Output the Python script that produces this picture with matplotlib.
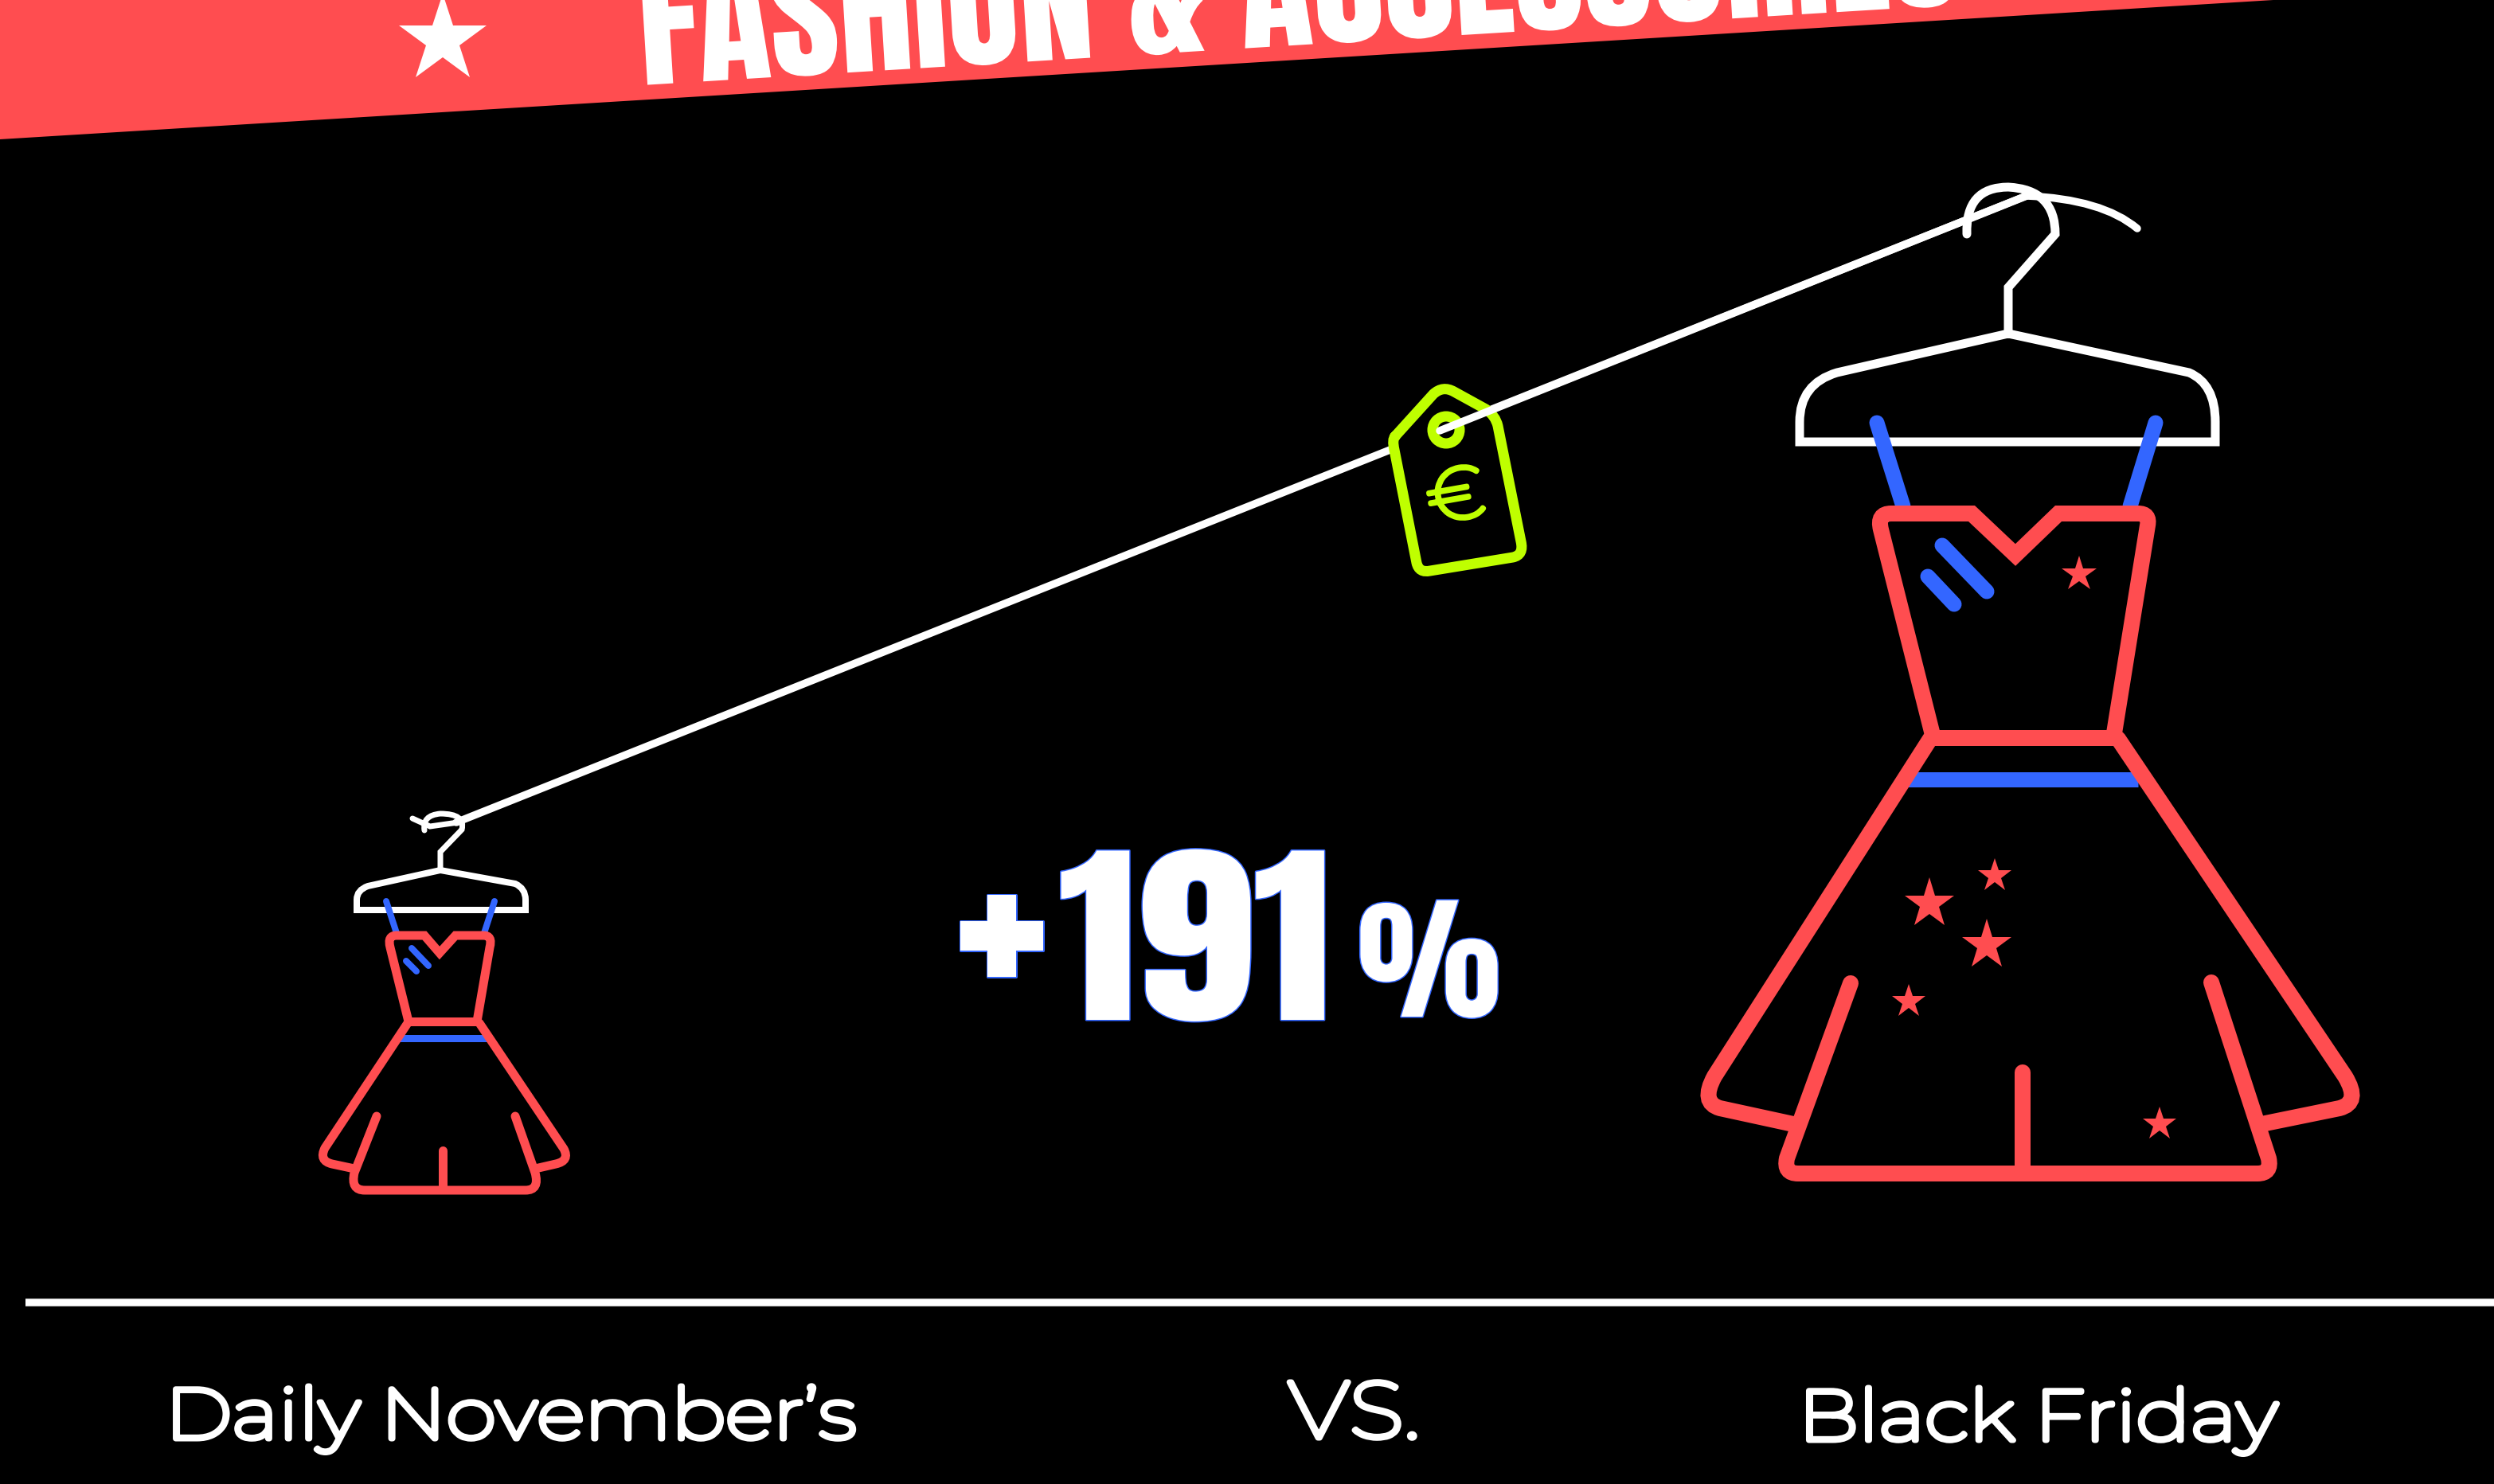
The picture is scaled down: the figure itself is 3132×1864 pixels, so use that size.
import matplotlib
matplotlib.use('Agg')
import matplotlib.pyplot as plt
import matplotlib.patheffects as pe
from matplotlib.patches import PathPatch, Polygon, Circle
from matplotlib.path import Path
from matplotlib.transforms import Affine2D

# ============================================================
# DATA
# ============================================================
BANNER_TEXT = "FASHION & ACCESSORIES"
CHANGE = ["+", "191", "%"]
LABELS = ["Daily November\u2019s", "VS.", "Black Friday"]

RED = '#FF4D50'
BLUE = '#3366FF'
LIME = '#BFFF00'
WHITE = '#FFFFFF'

# icon outlines in picture pixels, a 3rd item marks a curve control point
BIG_HANGER = [(2522, 419), (2307, 468), (2260, 482, 1), (2260, 530), (2260, 555), (2782, 555),
              (2782, 530), (2782, 482, 1), (2749, 468), (2522, 419)]
BIG_HOOK = [(2470, 294), (2468, 235, 1), (2522, 235), (2581, 238, 1), (2581, 294), (2522, 361), (2522, 419)]
BIG_BODICE = [(2428, 927), (2362, 665), (2357, 645, 1), (2375, 645), (2476, 645), (2531, 697), (2585, 645),
              (2685, 645), (2700, 645, 1), (2697, 660), (2654, 927)]
BIG_SKIRT_L = [(2424, 928), (2153, 1352), (2135, 1385, 1), (2160, 1392), (2252, 1412)]
BIG_SKIRT_R = [(2660, 928), (2945, 1352), (2965, 1385, 1), (2938, 1392), (2840, 1412)]
BIG_HEM = [(2324, 1235), (2244, 1455), (2240, 1474, 1), (2258, 1474), (2835, 1474), (2853, 1474, 1), (2849, 1455), (2777, 1234)]
BIG_STRAPS = [[(2357, 531), (2390, 636)], [(2707, 531), (2675, 636)]]
BIG_DASHES = [[(2439, 685), (2495, 743)], [(2421, 724), (2454, 759)]]
BIG_STARS = [(2611, 721, 23), (2505, 1100, 22), (2423, 1135, 33), (2495, 1187, 33), (2397, 1258, 22), (2712, 1412, 22)]

SMALL_HANGER = [(553, 1093), (462, 1113), (448, 1118, 1), (448, 1130), (448, 1143), (660, 1143),
                (660, 1130), (660, 1116, 1), (647, 1110), (553, 1093)]
SMALL_HOOK = [(533, 1043), (530, 1024, 1), (553, 1022), (585, 1022, 1), (580, 1042), (553, 1070), (553, 1093)]
SMALL_TAIL = [(518, 1028), (540, 1038), (575, 1033)]
SMALL_BODICE = [(513, 1283), (490, 1190), (486, 1175, 1), (498, 1175), (533, 1175), (552, 1197), (572, 1175),
                (607, 1175), (619, 1175, 1), (615, 1190), (599, 1283)]
SMALL_SKIRT_L = [(512, 1285), (408, 1442), (400, 1458, 1), (417, 1462), (445, 1468)]
SMALL_SKIRT_R = [(602, 1285), (708, 1443), (716, 1458, 1), (698, 1462), (672, 1468)]
SMALL_HEM = [(473, 1402), (445, 1473), (440, 1495, 1), (458, 1495), (660, 1495), (678, 1495, 1), (672, 1473), (647, 1402)]
SMALL_STRAPS = [[(485, 1132), (498, 1172)], [(621, 1132), (608, 1172)]]
SMALL_DASHES = [[(517, 1191), (538, 1213)], [(510, 1207), (523, 1220)]]

TAG = [(1752, 548), (1800, 495), (1812, 484, 1), (1826, 492), (1866, 514), (1878, 522, 1), (1881, 535), (1910, 680),
       (1914, 697, 1), (1900, 700), (1796, 717), (1782, 720, 1), (1779, 707), (1751, 565), (1748, 552, 1), (1752, 548)]


# ============================================================
# HELPERS
# ============================================================
class Stretch(pe.AbstractPathEffect):
    """Scale glyphs sideways and thicken them, the installed fonts come in one weight only."""
    def __init__(self, sx=1.0, edge=None, px=0):
        super().__init__()
        self.sx, self.edge, self.px = sx, edge, px

    def draw_path(self, renderer, gc, tpath, affine, rgbFace=None):
        tr = Affine2D().scale(self.sx, 1) + affine
        if self.edge:
            gc0 = renderer.new_gc()
            gc0.copy_properties(gc)
            gc0.set_foreground(self.edge)
            gc0.set_linewidth(self.px * 0.72)
            renderer.draw_path(gc0, tpath, tr, rgbFace)
            gc0.restore()
        renderer.draw_path(gc, tpath, tr, rgbFace)


def make_path(pts):
    verts, codes = [], []
    for i, p in enumerate(pts):
        verts.append(p[:2])
        if i == 0:
            codes.append(Path.MOVETO)
        elif len(p) == 3 or len(pts[i - 1]) == 3:
            codes.append(Path.CURVE3)
        else:
            codes.append(Path.LINETO)
    return Path(verts, codes)


def stroke(pts, color, px, z=3, face='none'):
    ax.add_patch(PathPatch(make_path(pts), facecolor=face, edgecolor=color, lw=px * 0.72,
                           capstyle='round', joinstyle='miter', zorder=z))


def star(x, y, r, color, z=4):
    ax.plot([x], [y], marker='*', ms=2 * r * 0.72, color=color, mew=0, ls='none', zorder=z)


# ============================================================
# PLOT
# ============================================================
fig = plt.figure(figsize=(31.32, 18.64), dpi=100, facecolor='black')
ax = fig.add_axes([0, 0, 1, 1])
ax.set_xlim(0, 3132)
ax.set_ylim(1864, 0)
ax.axis('off')

heavy = ['Anton', 'Oswald', 'Liberation Sans']
mont = ['Montserrat', 'Open Sans']

# banner
ax.add_patch(Polygon([(0, 0), (2855, 0), (0, 175)], closed=True, facecolor=RED, edgecolor='none', zorder=1))
star(556, 50, 58, WHITE)
ax.text(806, 107, BANNER_TEXT, color=WHITE, fontsize=125, rotation=3.5, rotation_mode='anchor',
        family=heavy, ha='left', va='baseline', zorder=2, path_effects=[Stretch(1.077)])

# string, tag sits on top of it
ax.plot([573, 2545], [1033, 246], color=WHITE, lw=9.5 * 0.72, solid_capstyle='round', zorder=2)
stroke(TAG, LIME, 13, z=3, face='black')
ax.add_patch(Circle((1816, 540), 17, facecolor='none', edgecolor=LIME, lw=13 * 0.72, zorder=4))
ax.plot([1808, 2545], [541, 246], color=WHITE, lw=9.5 * 0.72, solid_capstyle='round', zorder=5)
stroke([(2545, 246), (2640, 250, 1), (2684, 287)], WHITE, 9.5, z=5)
ax.text(1829, 627, "\u20ac", color=LIME, fontsize=66, rotation=10, ha='center', va='center',
        family=mont, zorder=5, path_effects=[Stretch(1.0, LIME, 6)])

# big dress
stroke(BIG_HANGER, WHITE, 11)
stroke(BIG_HOOK, WHITE, 11)
ax.plot([2396, 2685], [979, 979], color=BLUE, lw=19 * 0.72, solid_capstyle='butt', zorder=3)
for seg in BIG_STRAPS + BIG_DASHES:
    stroke(seg, BLUE, 19, z=4)
stroke(BIG_BODICE, RED, 20, z=5)
ax.plot([2424, 2660], [927, 927], color=RED, lw=20 * 0.72, solid_capstyle='butt', zorder=5)
for seg in [BIG_SKIRT_L, BIG_SKIRT_R, BIG_HEM, [(2540, 1347), (2540, 1473)]]:
    stroke(seg, RED, 20, z=5)
for x, y, r in BIG_STARS:
    star(x, y, r, RED, z=5)

# small dress
stroke(SMALL_HANGER, WHITE, 8)
stroke(SMALL_HOOK, WHITE, 7)
stroke(SMALL_TAIL, WHITE, 7)
ax.plot([500, 612], [1304, 1304], color=BLUE, lw=9 * 0.72, solid_capstyle='butt', zorder=3)
for seg in SMALL_STRAPS + SMALL_DASHES:
    stroke(seg, BLUE, 8, z=4)
stroke(SMALL_BODICE, RED, 11, z=5)
ax.plot([510, 604], [1283, 1283], color=RED, lw=11 * 0.72, solid_capstyle='butt', zorder=5)
for seg in [SMALL_SKIRT_L, SMALL_SKIRT_R, SMALL_HEM, [(556, 1445), (556, 1493)]]:
    stroke(seg, RED, 11, z=5)

# change figure
ax.text(1200, 1275, CHANGE[0], color=WHITE, fontsize=235, family=heavy, ha='left', va='baseline',
        zorder=5, path_effects=[Stretch(1.0, BLUE, 3)])
ax.text(1329, 1281, CHANGE[1], color=WHITE, fontsize=178, family=heavy, ha='left', va='baseline',
        zorder=5, path_effects=[Stretch(1.2, BLUE, 3)])
ax.text(1705, 1277, CHANGE[2], color=WHITE, fontsize=122, family=heavy, ha='left', va='baseline',
        zorder=5, path_effects=[Stretch(1.0, BLUE, 3)])

# bottom rule and labels
ax.plot([32, 3132], [1636, 1636], color=WHITE, lw=9.5 * 0.72, solid_capstyle='butt', zorder=2)
label_font = {'family': mont, 'color': WHITE, 'ha': 'left', 'va': 'baseline'}
ax.text(207, 1807, LABELS[0], fontsize=64, path_effects=[Stretch(1.145, WHITE, 7)], **label_font)
ax.text(1618, 1806, LABELS[1], fontsize=72, path_effects=[Stretch(1.14, WHITE, 7)], **label_font)
ax.text(2258, 1809, LABELS[2], fontsize=64, path_effects=[Stretch(1.14, WHITE, 7)], **label_font)

fig.savefig('out.png', dpi=100, facecolor='black')
